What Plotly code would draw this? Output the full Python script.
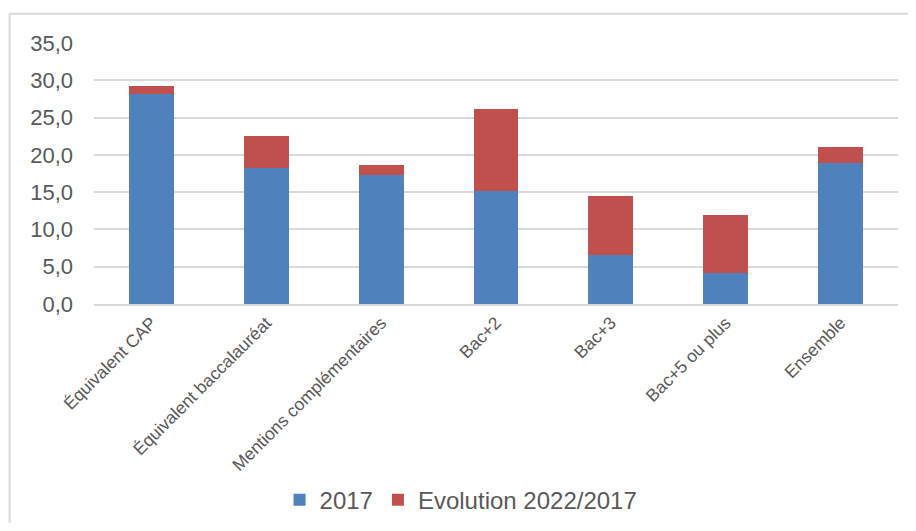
import plotly.graph_objects as go

categories = ["Équivalent CAP", "Équivalent baccalauréat", "Mentions complémentaires",
              "Bac+2", "Bac+3", "Bac+5 ou plus", "Ensemble"]
values_2017 = [28.2, 18.2, 17.25, 15.1, 6.6, 4.2, 18.9]
evolution_2022_2017 = [1.1, 4.3, 1.45, 11.1, 7.9, 7.7, 2.2]
y_ticks = [0, 5, 10, 15, 20, 25, 30, 35]
y_tick_labels = ["0,0", "5,0", "10,0", "15,0", "20,0", "25,0", "30,0", "35,0"]

# page body has an 8px margin, so figure coords = screen coords - 8
OFF = 8
W, H = 900, 515
L = 93.5 - OFF
R = W - (898.5 - OFF)
T = 42.7 - OFF
B = H - (304.3 - OFF)
pw = W - L - R
ph = H - T - B

fig = go.Figure()
fig.add_trace(go.Bar(x=categories, y=values_2017, name="2017",
                     marker=dict(color="#4F81BD", line=dict(width=0))))
fig.add_trace(go.Bar(x=categories, y=evolution_2022_2017, name="Evolution 2022/2017",
                     marker=dict(color="#C0504D", line=dict(width=0))))

def px_x(sx):
    return (sx - OFF - L) / pw

def px_y(sy):
    return (H - B - (sy - OFF)) / ph

# outer chart border (left and top visible)
fig.add_shape(type="line", xref="paper", yref="paper",
              x0=px_x(9), x1=px_x(930), y0=px_y(13.5), y1=px_y(13.5),
              line=dict(color="#d9d9d9", width=2))
fig.add_shape(type="line", xref="paper", yref="paper",
              x0=px_x(9), x1=px_x(9), y0=px_y(13.5), y1=px_y(560),
              line=dict(color="#d9d9d9", width=2))

fig.update_layout(
    width=W, height=H,
    barmode="stack",
    bargap=0.61,
    margin=dict(l=L, r=R, t=T, b=B, autoexpand=False),
    paper_bgcolor="white", plot_bgcolor="white",
    font=dict(family="Liberation Sans, Arial, sans-serif", color="#595959"),
    xaxis=dict(tickangle=-45, tickfont=dict(size=17.5, color="#595959"),
               showgrid=False, showline=True, linecolor="#d9d9d9", linewidth=1.5,
               ticks="", range=[-0.5, 6.5]),
    yaxis=dict(range=[0, 35], tickvals=y_ticks, ticktext=y_tick_labels,
               tickfont=dict(size=22, color="#595959"),
               showgrid=True, gridcolor="#d9d9d9", gridwidth=1.5,
               zeroline=False, showline=False, ticks="", ticklabelstandoff=20),
    legend=dict(orientation="h", x=0.5 - 35 / pw, xanchor="center", y=px_y(501), yanchor="middle",
                font=dict(size=24, color="#595959"), itemsizing="constant",
                traceorder="normal", itemwidth=30),
    showlegend=True,
)

fig.write_html("out.html")
